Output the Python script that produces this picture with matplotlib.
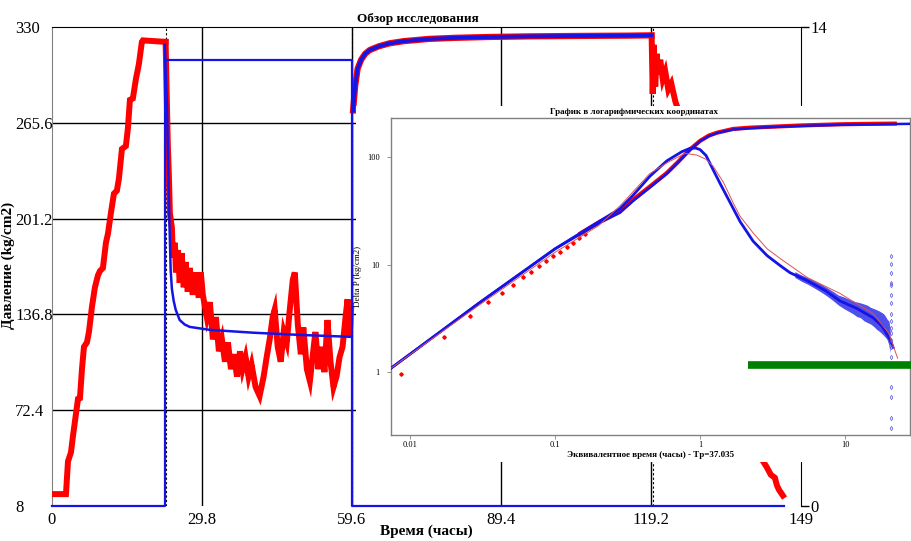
import matplotlib
matplotlib.use('Agg')
import matplotlib.pyplot as plt

plt.rcParams['font.family'] = ['Liberation Serif', 'DejaVu Serif']

# ---------------- main chart data ----------------
x_ticks = [0, 29.8, 59.6, 89.4, 119.2, 149]
x_tick_labels = ['0', '29.8', '59.6', '89.4', '119.2', '149']
y_ticks = [8, 72.4, 136.8, 201.2, 265.6, 330]
y_tick_labels = ['8', '72.4', '136.8', '201.2', '265.6', '330']
rate_ticks = [0, 14]
rate_tick_labels = ['0', '14']
event_times = [22.6, 59.7, 119.5]

# gauge pressure: run in hole
t_rise = [0, 2.78, 3.18, 3.77, 4.17, 4.77, 5.17, 5.56, 5.96, 6.36, 6.95, 7.35, 7.95,
          8.54, 9.14, 9.54, 10.13, 10.73, 11.13, 11.72, 12.32, 12.91, 13.31, 13.91,
          14.70, 15.10, 15.50, 16.09, 16.69, 17.28, 17.88, 18.08, 22.6]
p_rise = [16, 16, 38, 44, 55, 70, 80, 80.5, 100, 115, 118, 125, 142,
          155, 163, 166, 168, 185, 191, 205, 218, 220, 228, 248,
          250, 262, 281, 282, 295, 305, 320, 321, 320]

# gauge pressure: flow period
t_flow = [22.6, 22.85, 23.05, 23.25, 23.45, 23.85, 24.05, 24.45, 24.65, 25.05, 25.4,
          25.8, 26.2, 26.6, 27.0, 27.4, 28.0, 28.6, 29.2, 29.6, 30.0, 30.8, 31.4,
          32.0, 32.6, 33.2, 33.8, 34.4, 35.0, 35.6, 36.2, 36.8, 37.4, 37.9, 38.5,
          39.1, 39.7, 40.5, 41.3, 42.1, 42.7, 43.3, 43.9, 44.3, 44.9, 45.5, 46.1,
          46.7, 47.3, 47.9, 48.3, 48.9, 49.5, 50.0, 50.7, 51.3, 51.9, 52.4, 53.0,
          53.6, 54.2, 54.8, 55.4, 56.0, 56.6, 57.2, 57.8, 58.4, 58.8, 59.2, 59.5]
p_flow = [320, 280, 250, 230, 205, 195, 175, 185, 165, 180, 158,
          178, 155, 172, 152, 168, 150, 165, 148, 165, 150, 135, 145,
          120, 135, 112, 120, 105, 118, 100, 110, 95, 112, 100, 108,
          95, 103, 88, 82, 95, 108, 120, 135, 140, 115, 105, 125,
          118, 140, 160, 165, 130, 110, 128, 100, 92, 110, 125, 100,
          115, 98, 133, 105, 88, 95, 108, 115, 135, 147, 122, 140]

# jump at shut-in
t_jump = [59.75, 59.75]
p_jump = [130, 266]

# buildup (gauge and model nearly identical)
t_bu = [59.9, 60.3, 60.8, 61.5, 62.3, 63.2, 65.0, 67.1, 70.0, 75.0, 80.0, 87.0,
        95.0, 105.0, 114.8, 119.3]
p_bu = [274, 290, 302, 308, 312, 314.5, 317, 319, 320.5, 322, 322.7, 323.3,
        323.7, 324.0, 324.2, 324.4]

# gauge pressure: pull out of hole
t_pull = [119.3, 119.5, 119.7, 120.0, 120.3, 120.6, 121.0, 121.5, 122.0, 122.6,
          123.2, 124.0, 125.0, 126.0, 130.0, 135.0, 139.0, 141.1, 142.2, 143.0,
          143.8, 144.2, 144.6, 145.4]
p_pull = [321, 285, 318, 290, 312, 298, 308, 295, 300, 288,
          292, 280, 270, 255, 200, 130, 70, 40, 34, 29,
          27, 22, 19, 15]

# model pressure during flow
t_model_flow = [22.45, 22.6, 22.85, 23.1, 23.35, 23.6, 23.85, 24.2, 24.6, 25.4,
                26.4, 27.4, 31.4, 40.0, 49.3, 59.6]
p_model_flow = [318, 300, 280, 240, 200, 167, 154, 146, 140, 133,
                130, 128.4, 126.4, 124.5, 123, 121.7]

# rate (right axis)
t_rate = [0, 22.45, 22.45, 59.6, 59.6, 145.6]
q_rate = [0, 0, 13.04, 13.04, 0, 0]

# ---------------- log-log inset data ----------------
inset_x_ticks = [0.01, 0.1, 1, 10]
inset_x_labels = ['0.01', '0.1', '1', '10']
inset_y_ticks = [1, 10, 100]
inset_y_labels = ['1', '10', '100']

t_dp_model = [0.0074, 0.01, 0.03, 0.1, 0.204, 0.28, 0.345, 0.45, 0.59, 0.7, 0.85,
              1.0, 1.15, 1.31, 1.69, 2.2, 2.9, 4.9, 9.2, 15, 28]
dp_model = [1.09, 1.47, 4.4, 14, 24.5, 30.4, 39, 52, 70, 88, 116,
            140, 156, 167, 180, 185, 189, 194, 199, 201, 203]

t_dp_data = [0.15, 0.204, 0.28, 0.345, 0.45, 0.59, 0.7, 0.85, 1.0, 1.15, 1.31,
             1.69, 2.2, 2.9, 4.9, 9.2, 15, 22]
dp_data = [19.5, 25, 31, 40, 53, 71, 89, 117, 141, 158, 168,
           182, 187, 190, 196, 201, 203, 204]

t_dp_pts = [0.0087, 0.0171, 0.026, 0.0347, 0.0434, 0.0514, 0.06, 0.0684, 0.0776,
            0.087, 0.097, 0.108, 0.12, 0.133, 0.147, 0.162]
dp_pts = [0.96, 2.11, 3.3, 4.45, 5.5, 6.5, 7.6, 8.6, 9.6,
          10.8, 11.9, 13.2, 14.6, 16.0, 17.6, 19.3]

t_der = [0.0074, 0.01, 0.03, 0.1, 0.2, 0.28, 0.345, 0.45, 0.59, 0.75, 0.85, 0.93,
         1.0, 1.1, 1.23, 1.38, 1.53, 1.89, 2.32, 2.9, 3.56, 4.17, 5.47, 7.28, 9.2,
         12.1, 15.6, 17.9, 20.5, 21.4]
der = [1.09, 1.47, 4.4, 14, 25, 33, 44, 66, 92, 112, 120, 121,
       117, 103, 76, 56, 43, 25, 16.5, 12.1, 9.8, 8.4, 7.1, 5.75, 4.6,
       3.9, 3.2, 2.7, 2.0, 1.7]

t_der_model = [0.0074, 0.03, 0.1, 0.2, 0.28, 0.45, 0.59, 0.79, 0.95, 1.1, 1.23,
               1.45, 1.69, 1.89, 2.32, 2.9, 3.56, 5.47, 9.2, 15.6, 20, 23]
der_model = [1.09, 4.2, 13, 23, 35, 70, 88, 108, 104, 95, 82,
             58, 37.5, 28, 19.7, 14, 11.4, 7.6, 5.4, 3.5, 2.3, 1.35]

t_band = [4.5, 5.0, 5.6, 6.2, 6.9, 7.5, 8.3, 9.0, 9.8, 10.5, 11.3, 12.0, 12.8,
          13.5, 14.2, 15.0, 15.8, 16.5, 17.2, 17.8, 18.4, 19.0, 19.5, 20.0, 20.4]
band_hi = [8.6, 8.0, 7.5, 7.0, 6.5, 6.1, 5.6, 5.2, 5.0, 4.8, 4.6, 4.5, 4.4,
           4.3, 4.2, 4.0, 3.9, 3.8, 3.7, 3.6, 3.5, 3.3, 3.1, 3.0, 2.6]
band_lo = [7.6, 7.0, 6.5, 6.0, 5.5, 5.1, 4.6, 4.2, 3.9, 3.7, 3.5, 3.3, 3.2,
           3.0, 2.9, 2.8, 2.65, 2.5, 2.4, 2.3, 2.2, 2.1, 2.0, 1.8, 1.5]

t_col = [20.8] * 18
dp_col = [12.1, 10.2, 8.3, 6.8, 6.4, 5.2, 4.35, 3.5, 3.0, 2.6, 2.3, 1.98, 1.70,
          1.38, 0.73, 0.59, 0.375, 0.30]

t_green = [2.14, 30]
dp_green = [1.16, 1.16]

RED = '#ff0000'
BLUE = '#1414e6'

# ---------------- figure ----------------
fig = plt.figure(figsize=(9.12, 5.41), dpi=100)
ax = fig.add_axes([52 / 912, 1 - 506 / 541, 749 / 912, 479 / 541])
ax.set_xlim(0, 149)
ax.set_ylim(8, 330)
ax.set_xticks(x_ticks, x_tick_labels)
ax.set_yticks(y_ticks, y_tick_labels)
ax.tick_params(axis='both', length=0, labelsize=12)
ax.tick_params(axis='x', pad=4)
ax.tick_params(axis='y', pad=26.6)
for lab in ax.get_yticklabels():
    lab.set_horizontalalignment('left')

for y in y_ticks[1:-1]:
    ax.axhline(y, color='black', lw=1, zorder=1)
for x in x_ticks[1:-1]:
    ax.axvline(x, color='black', lw=1, zorder=1)
for x in event_times:
    ax.axvline(x, color='black', lw=0.8, ls=(0, (2, 2)), zorder=1)

ax.plot(t_rise, p_rise, color=RED, lw=4.3, zorder=3, solid_joinstyle='miter')
ax.plot(t_flow, p_flow, color=RED, lw=4.3, zorder=3, solid_joinstyle='miter')
ax.plot(t_jump, p_jump, color='#e05090', lw=1.0, zorder=3)
ax.plot(t_bu, p_bu, color=RED, lw=4.5, zorder=3)
ax.plot(t_pull, p_pull, color=RED, lw=4.3, zorder=3, solid_joinstyle='miter')
ax.plot(t_model_flow, p_model_flow, color=BLUE, lw=1.8, zorder=4)
ax.plot(t_bu, p_bu, color=BLUE, lw=2.8, zorder=4)

for s in ['top', 'right', 'bottom']:
    ax.spines[s].set_visible(False)
ax.spines['left'].set_color('#808080')

ax2 = ax.twinx()
ax2.set_ylim(0, 14)
ax2.set_yticks(rate_ticks, rate_tick_labels)
ax2.tick_params(axis='y', length=6, width=1, labelsize=12, pad=1)
ax2.plot(t_rate, q_rate, color=BLUE, lw=1.6, zorder=5, clip_on=False)
ax2.spines['left'].set_visible(False)
ax2.spines['bottom'].set_visible(False)
ax2.spines['top'].set_color('black')
ax2.spines['right'].set_color('black')

fig.text(418 / 912, 1 - 19 / 541, 'Обзор исследования', ha='center', va='center',
         fontsize=9.5, fontweight='bold')
fig.text(426 / 912, 1 - 531 / 541, 'Время (часы)', ha='center', va='center',
         fontsize=11, fontweight='bold')
fig.text(8 / 912, 1 - 265 / 541, 'Давление (kg/cm2)', ha='center', va='center',
         rotation=90, fontsize=11, fontweight='bold')

# ---------------- inset ----------------
bg = fig.add_axes([356 / 912, 1 - 462 / 541, 556 / 912, 356 / 541])
bg.set_xticks([])
bg.set_yticks([])
for s in bg.spines.values():
    s.set_visible(False)
bg.set_facecolor('white')

ins = fig.add_axes([391 / 912, 1 - 435 / 541, 519 / 912, 317 / 541])
ins.set_xscale('log')
ins.set_yscale('log')
ins.set_xlim(0.0074, 28)
ins.set_ylim(0.261, 230)
ins.set_xticks(inset_x_ticks, inset_x_labels)
ins.set_yticks(inset_y_ticks, inset_y_labels)
ins.minorticks_off()
ins.tick_params(axis='both', labelsize=6, length=3, width=0.6, color='#808080')
ins.tick_params(axis='y', pad=5)
ins.tick_params(axis='x', pad=1.5)
for s in ins.spines.values():
    s.set_color('#808080')
    s.set_linewidth(1)

ins.plot(t_dp_data, dp_data, color=RED, lw=3.0, zorder=3)
ins.plot(t_dp_model, dp_model, color=BLUE, lw=1.8, zorder=4)
ins.plot(t_dp_pts, dp_pts, ls='none', marker='D', ms=1.8, color=RED, zorder=4)
ins.fill_between(t_band, band_lo, band_hi, color=BLUE, alpha=0.75, lw=0, zorder=3)
ins.plot(t_der, der, color=BLUE, lw=2.0, zorder=4)
ins.plot(t_der_model, der_model, color='#e05050', lw=0.7, zorder=5)
ins.plot(t_col, dp_col, ls='none', marker='d', ms=2.2, mfc='none', mec='#5050e0',
         mew=0.5, zorder=4)
ins.plot(t_green, dp_green, color='#008000', lw=5.5, solid_capstyle='butt',
         clip_on=False, zorder=6)

ins.set_xlabel('Эквивалентное время (часы) - Tp=37.035', fontsize=6.5,
               fontweight='bold', labelpad=1.5)
ins.set_ylabel('Delta P (kg/cm2)', fontsize=6.5, labelpad=4)
fig.text(634 / 912, 1 - 112 / 541, 'График в логарифмических координатах',
         ha='center', va='center', fontsize=6.5, fontweight='bold')

fig.savefig('out.png', dpi=100)
